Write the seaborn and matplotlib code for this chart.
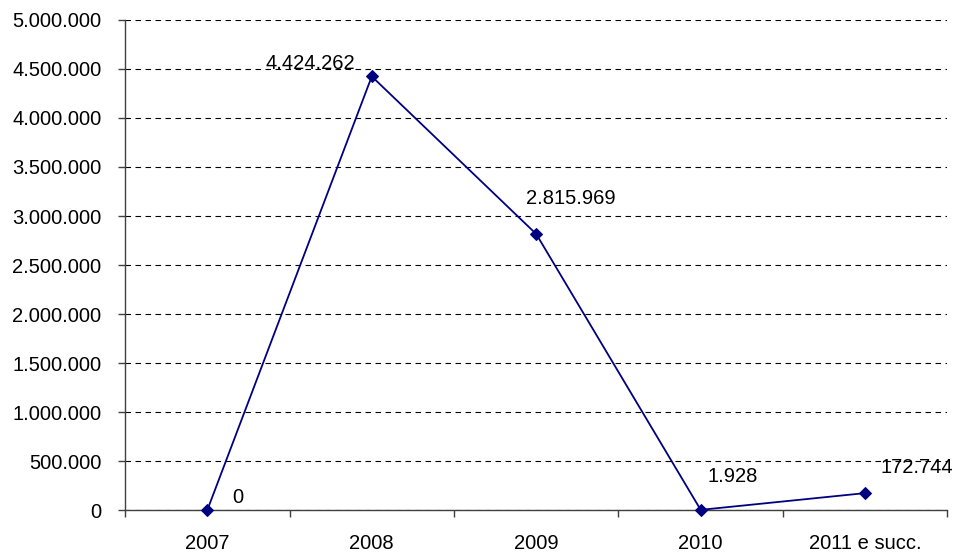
import matplotlib
matplotlib.use("Agg")
import matplotlib.pyplot as plt
from matplotlib.ticker import FuncFormatter, MultipleLocator, FixedLocator
import seaborn as sns
import pandas as pd

# data
years = ['2007', '2008', '2009', '2010', '2011 e succ.']
values = [0, 4424262, 2815969, 1928, 172744]
labels = ['0', '4.424.262', '2.815.969', '1.928', '172.744']
# label offsets in pixels (dx, dy) from each point
offsets = [(30, 13), (-61, 13), (35, 36), (32, 33), (52, 26)]

sns.set_style('white')
plt.rcParams['font.family'] = ['Liberation Sans', 'DejaVu Sans']

df = pd.DataFrame({'anno': years, 'valore': values})

fig = plt.figure(figsize=(9.55, 5.55), dpi=100)
ax = fig.add_axes([0.131, 0.081, 0.861, 0.883])

sns.lineplot(data=df, x='anno', y='valore', sort=False, color='#000080',
             linewidth=1.3, marker='D', markersize=6.5,
             markeredgecolor='#000080', clip_on=False, zorder=3, ax=ax)

for i, (lab, val) in enumerate(zip(labels, values)):
    dx, dy = offsets[i]
    ax.annotate(lab, (i, val), xytext=(dx * 0.72, dy * 0.72),
                textcoords='offset points', ha='center', va='center',
                fontsize=14.5, color='black')

ax.set_xlim(-0.5, len(years) - 0.5)
ax.set_ylim(0, 5000000)
ax.yaxis.set_major_locator(MultipleLocator(500000))
ax.yaxis.set_major_formatter(FuncFormatter(lambda v, p: f'{int(v):,}'.replace(',', '.')))
ax.grid(axis='y', color='black', linestyle=(0, (5, 4)), linewidth=0.8)
ax.set_axisbelow(True)

ax.xaxis.set_minor_locator(FixedLocator([i - 0.5 for i in range(len(years) + 1)]))
ax.tick_params(axis='x', which='major', length=0, pad=17, labelsize=14.5, labelcolor='black')
ax.tick_params(axis='x', which='minor', length=5, width=1, color='#404040', direction='out', bottom=True)
ax.tick_params(axis='y', which='major', length=5, width=1, color='#404040', direction='out',
               left=True, pad=12, labelsize=14.5, labelcolor='black')

for s in ['top', 'right']:
    ax.spines[s].set_visible(False)
for s in ['left', 'bottom']:
    ax.spines[s].set_color('#404040')
    ax.spines[s].set_linewidth(1)

ax.set_xlabel('')
ax.set_ylabel('')

fig.savefig('out.png', dpi=100)
